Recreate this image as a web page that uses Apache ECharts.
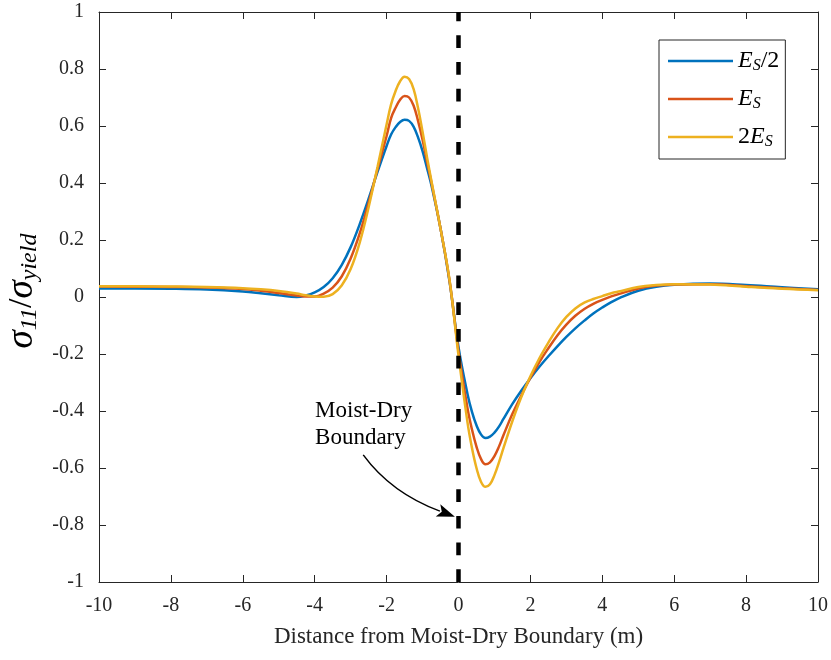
<!DOCTYPE html>
<html>
<head>
<meta charset="utf-8">
<script src="https://cdn.jsdelivr.net/npm/echarts@6/dist/echarts.min.js"></script>
<style>
  html, body { margin: 0; padding: 0; background: #fff; }
  #chart { width: 831px; height: 660px; }
</style>
</head>
<body>
<div id="chart"></div>
<script>
// Distance from the moist-dry boundary (m)
const distance = [-10, -9, -8, -7, -6, -5.5, -5,
  -4.5, -4.25, -4, -3.75, -3.5, -3.25, -3, -2.75, -2.5, -2.25, -2,
  -1.875, -1.75, -1.625, -1.5, -1.375, -1.25, -1.125, -1, -0.875, -0.75,
  -0.5, -0.25, 0, 0.25,
  0.375, 0.5, 0.625, 0.75, 0.875, 1, 1.125, 1.25,
  1.5, 1.75, 2, 2.25, 2.5, 2.75, 3, 3.25, 3.5, 3.75, 4, 4.25, 4.5,
  5, 5.5, 6, 7, 8, 9, 10];

// Normalised stress sigma_11 / sigma_yield for three soil moduli
const stressHalfEs = [0.030, 0.030, 0.029, 0.026, 0.019, 0.013, 0.006,
  0.000, 0.005, 0.016, 0.035, 0.066, 0.112, 0.175, 0.255, 0.345, 0.440, 0.530,
  0.570, 0.596, 0.614, 0.622, 0.618, 0.598, 0.560, 0.512, 0.452, 0.390,
  0.240, 0.055, -0.175, -0.340,
  -0.403, -0.450, -0.482, -0.495, -0.490, -0.476, -0.455, -0.428,
  -0.375, -0.328, -0.285, -0.245, -0.208, -0.173, -0.140, -0.110, -0.083, -0.058, -0.037, -0.018, -0.002,
  0.022, 0.036, 0.043, 0.047, 0.042, 0.034, 0.027];

const stressEs = [0.037, 0.036, 0.035, 0.033, 0.028, 0.022, 0.014,
  0.005, 0.002, 0.002, 0.012, 0.033, 0.072, 0.135, 0.222, 0.330, 0.450, 0.565,
  0.628, 0.664, 0.692, 0.705, 0.700, 0.672, 0.618, 0.552, 0.475, 0.400,
  0.240, 0.058, -0.190, -0.390,
  -0.465, -0.525, -0.568, -0.587, -0.580, -0.558, -0.525, -0.485,
  -0.410, -0.345, -0.283, -0.228, -0.180, -0.135, -0.097, -0.066, -0.042, -0.024, -0.010, 0.002, 0.012,
  0.030, 0.040, 0.044, 0.045, 0.038, 0.031, 0.025];

const stressTwoEs = [0.038, 0.038, 0.037, 0.035, 0.031, 0.027, 0.021,
  0.012, 0.006, 0.002, 0.001, 0.010, 0.040, 0.098, 0.190, 0.315, 0.458, 0.605,
  0.676, 0.723, 0.757, 0.773, 0.765, 0.730, 0.663, 0.580, 0.490, 0.405,
  0.240, 0.060, -0.205, -0.440,
  -0.530, -0.600, -0.648, -0.666, -0.657, -0.625, -0.580, -0.530,
  -0.435, -0.350, -0.278, -0.215, -0.160, -0.110, -0.070, -0.040, -0.020, -0.007, 0.003, 0.013, 0.020,
  0.035, 0.042, 0.045, 0.044, 0.036, 0.029, 0.024];

const seriesNames = ['Es/2', 'Es', '2Es'];
const seriesColors = ['#0072BD', '#D95319', '#EDB120'];

// Boundary marker and its callout (data coordinates)
const boundaryX = 0;
const calloutText = 'Moist-Dry\nBoundary';
const calloutAt = [-3.99, -0.351];
const arrowFrom = [-2.65, -0.554];
const arrowCtrl = [-1.87, -0.688];
const arrowTo = [-0.1, -0.771];

const FONT = '"Liberation Serif", "Times New Roman", serif';
const AXIS = '#262626';

const pairs = ys => distance.map((x, i) => [x, ys[i]]);

const axisLine = { onZero: false, lineStyle: { color: AXIS, width: 1 } };
const axisTick = { inside: true, length: 7, lineStyle: { color: AXIS, width: 1 } };

const chart = echarts.init(document.getElementById('chart'), null, { renderer: 'canvas' });

const legendRich = {
  i: { fontFamily: FONT, fontStyle: 'italic', fontSize: 24, lineHeight: 26, color: '#000' },
  s: { fontFamily: FONT, fontStyle: 'italic', fontSize: 16, lineHeight: 12, verticalAlign: 'bottom', color: '#000' },
  n: { fontFamily: FONT, fontSize: 24, lineHeight: 26, color: '#000' }
};
const legendLabels = { 'Es/2': '{i|E}{s|S}{n|/2}', 'Es': '{i|E}{s|S}', '2Es': '{n|2}{i|E}{s|S}' };

const curveSeries = [stressHalfEs, stressEs, stressTwoEs].map((ys, k) => ({
  name: seriesNames[k],
  type: 'line',
  data: pairs(ys),
  smooth: 0.4,
  symbol: 'none',
  lineStyle: { color: seriesColors[k], width: 2.5 },
  itemStyle: { color: seriesColors[k] },
  z: 3
}));

chart.setOption({
  animation: false,
  backgroundColor: '#fff',
  grid: { left: 99, right: 13, top: 12, bottom: 78, containLabel: false, outerBoundsMode: 'none' },
  xAxis: [
    {
      type: 'value', min: -10, max: 10, interval: 2, position: 'bottom',
      axisLine, axisTick,
      axisLabel: { fontFamily: FONT, fontSize: 20, color: AXIS, margin: 14 },
      splitLine: { show: false },
      name: 'Distance from Moist-Dry Boundary (m)',
      nameLocation: 'middle', nameGap: 43,
      nameTextStyle: { fontFamily: FONT, fontSize: 23, color: AXIS }
    },
    {
      type: 'value', min: -10, max: 10, interval: 2, position: 'top',
      axisLine, axisTick, axisLabel: { show: false }, splitLine: { show: false }
    }
  ],
  yAxis: [
    {
      type: 'value', min: -1, max: 1, interval: 0.2, position: 'left',
      axisLine, axisTick,
      axisLabel: {
        fontFamily: FONT, fontSize: 20, color: AXIS, margin: 15,
        formatter: v => String(Math.round(v * 10) / 10)
      },
      splitLine: { show: false },
      name: '{g|σ}{d|11}{n|/}{g|σ}{d|yield}',
      nameLocation: 'middle', nameRotate: 90, nameGap: 52,
      nameTextStyle: {
        padding: [0, 0, 0, 12],
        rich: {
          g: { fontFamily: FONT, fontStyle: 'italic', fontSize: 37, lineHeight: 38, color: '#000' },
          d: { fontFamily: FONT, fontStyle: 'italic', fontSize: 24, lineHeight: 18, verticalAlign: 'bottom', color: '#000' },
          n: { fontFamily: FONT, fontSize: 34, lineHeight: 38, color: '#000' }
        }
      }
    },
    {
      type: 'value', min: -1, max: 1, interval: 0.2, position: 'right',
      axisLine, axisTick, axisLabel: { show: false }, splitLine: { show: false }
    }
  ],
  legend: {
    data: seriesNames,
    orient: 'vertical',
    left: 659, top: 40,
    icon: 'rect', itemWidth: 65, itemHeight: 2.5, itemGap: 13,
    padding: [9, 6, 9, 9],
    borderColor: AXIS, borderWidth: 1, backgroundColor: '#fff',
    formatter: name => legendLabels[name],
    textStyle: { rich: legendRich }
  },
  series: [
    ...curveSeries,
    {
      name: 'boundary',
      type: 'line',
      data: [[boundaryX, -1], [boundaryX, 1]],
      symbol: 'none',
      silent: true,
      lineStyle: { color: '#000', width: 4.5, type: [12.7, 14] },
      z: 4
    }
  ]
});

// Callout text with a curved arrow pointing at the boundary line
const px = p => chart.convertToPixel({ gridIndex: 0 }, p);
const p0 = px(arrowFrom), pc = px(arrowCtrl), p1 = px(arrowTo);
const ang = Math.atan2(p1[1] - pc[1], p1[0] - pc[0]);
const headLen = 18, headHalf = 6.5;
const base = [p1[0] - headLen * Math.cos(ang), p1[1] - headLen * Math.sin(ang)];
const nx = -Math.sin(ang), ny = Math.cos(ang);
const tp = px(calloutAt);

chart.setOption({
  graphic: [
    {
      type: 'text', x: tp[0], y: tp[1], z: 10,
      style: {
        text: calloutText, font: '23px ' + FONT, fill: '#000',
        lineHeight: 27, align: 'left', verticalAlign: 'top'
      }
    },
    {
      type: 'bezierCurve', z: 10,
      shape: { x1: p0[0], y1: p0[1], cpx1: pc[0], cpy1: pc[1], x2: base[0] + 2 * Math.cos(ang), y2: base[1] + 2 * Math.sin(ang) },
      style: { stroke: '#000', lineWidth: 1.5, fill: null }
    },
    {
      type: 'polygon', z: 10,
      shape: {
        points: [
          [p1[0], p1[1]],
          [base[0] + nx * headHalf, base[1] + ny * headHalf],
          [base[0] + 4 * Math.cos(ang), base[1] + 4 * Math.sin(ang)],
          [base[0] - nx * headHalf, base[1] - ny * headHalf]
        ]
      },
      style: { fill: '#000', stroke: null }
    }
  ]
});
</script>
</body>
</html>
